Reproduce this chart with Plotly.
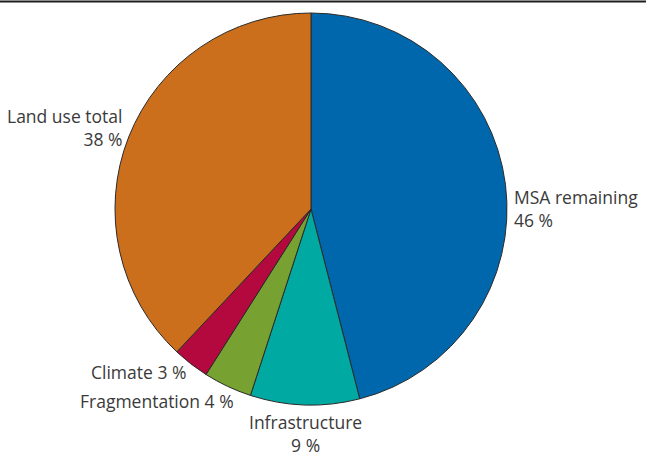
import plotly.graph_objects as go

categories = ["MSA remaining", "Infrastructure", "Fragmentation", "Climate", "Land use total"]
values = [46, 9, 4, 3, 38]
label_texts = ["MSA remaining<br>46 %", "Infrastructure<br>9 %", "Fragmentation 4 %",
               "Climate 3 %", "Land use total<br>38 %"]

colors = ["#0067AC", "#00A9A1", "#77A232", "#B3093F", "#CC6F1C"]

W, H = 646, 461
# label placement (pixels) and alignment
label_pos = [(512, 209, "left", "middle"),
             (305, 433, "center", "middle"),
             (236, 401, "right", "middle"),
             (188, 372, "right", "middle"),
             (124, 128, "right", "middle")]

fig = go.Figure(go.Pie(
    labels=categories,
    values=values,
    sort=False,
    direction="clockwise",
    rotation=0,
    textinfo="none",
    hoverinfo="label+percent",
    marker=dict(colors=colors, line=dict(color="#2a2a2a", width=1)),
    domain=dict(x=[115 / W, 507 / W], y=[1 - 405 / H, 1 - 13 / H]),
    showlegend=False,
))

for txt, (px, py, xa, ya) in zip(label_texts, label_pos):
    fig.add_annotation(
        x=px / W, y=1 - py / H, xref="paper", yref="paper",
        text=txt, showarrow=False, xanchor=xa, yanchor=ya, align=xa,
        font=dict(family="Open Sans", size=17.5, color="#3a3a3a"),
    )

fig.add_shape(type="line", xref="paper", yref="paper",
              x0=0, x1=1, y0=1 - 1.5 / H, y1=1 - 1.5 / H,
              line=dict(color="#1e1e1e", width=2))

fig.update_layout(
    width=W, height=H,
    margin=dict(l=0, r=0, t=0, b=0),
    paper_bgcolor="white",
    plot_bgcolor="white",
)

fig.write_html("out.html", config={"displayModeBar": False},
               post_script="document.body.style.margin='0';")
